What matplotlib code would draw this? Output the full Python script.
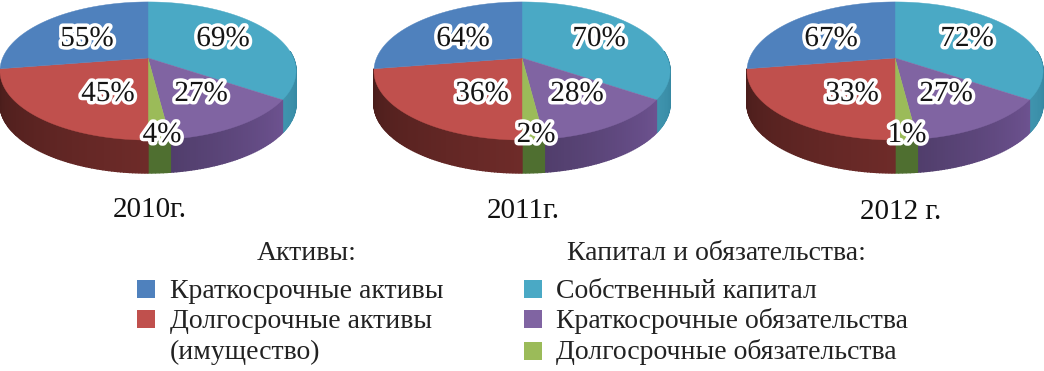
import numpy as np
import matplotlib
matplotlib.use('Agg')
import matplotlib.pyplot as plt
import matplotlib.patheffects as pe
from matplotlib.patches import Polygon

# Данные
years = ['2010г.', '2011г.', '2012 г.']
short_assets = [55, 64, 67]
long_assets = [45, 36, 33]
equity = [69, 70, 72]
short_liab = [27, 28, 27]
long_liab = [4, 2, 1]

# На рисунке все три круга нарисованы одинаково, секторы не зависят от подписей
drawn_right = [69, 27, 4]
drawn_left = [45, 55]

# Цвета
c_blue = '#4f81bd'
c_red = '#c0504d'
c_teal = '#4aa9c5'
c_purple = '#8064a2'
c_green = '#9bbb59'

# Синий сектор стенки не имеет: он целиком сзади
side_colors = {
    c_teal: ('#2f7f99', '#3f94ae'),
    c_purple: ('#6d5290', '#513e6c'),
    c_green: ('#4f6f30', '#4f6f30'),
    c_red: ('#6e2b29', '#4a1d1b'),
}

plt.rcParams['font.family'] = ['Liberation Serif', 'DejaVu Serif']

fig = plt.figure(figsize=(10.44, 3.71), dpi=100)
ax = fig.add_axes([0, 0, 1, 1])
ax.set_xlim(0, 1044)
ax.set_ylim(371, 0)
ax.axis('off')

# Геометрия псевдо-3D круга
R = 145.4
A = 66.6
K = 0.188
DEPTH = 33


def project(cx, cy, theta):
    w = 1 + K * np.cos(theta)
    return cx + R * np.sin(theta) / w, cy - A * np.cos(theta) / w


def arc(t1, t2):
    n = max(int(abs(t2 - t1) * 60), 2)
    return np.linspace(t1, t2, n)


def draw_side(cx, cy, t1, t2, color):
    # боковая стенка только для видимой передней части
    if color not in side_colors:
        return
    t1v = max(t1, np.pi / 2 - 0.1)
    t2v = min(t2, 3 * np.pi / 2 + 0.1)
    if t2v <= t1v:
        return
    ts = arc(t1v, t2v)
    c1, c2 = side_colors[color]
    c1 = np.array(matplotlib.colors.to_rgb(c1))
    c2 = np.array(matplotlib.colors.to_rgb(c2))
    for i in range(len(ts) - 1):
        x1, y1 = project(cx, cy, ts[i])
        x2, y2 = project(cx, cy, ts[i + 1])
        pts = [(x1, y1), (x2, y2), (x2, y2 + DEPTH), (x1, y1 + DEPTH)]
        f = i / max(len(ts) - 2, 1)
        col = c1 + (c2 - c1) * f
        ax.add_patch(Polygon(pts, closed=True, fc=col, ec=col, lw=1, zorder=2))


def draw_wedge(cx, cy, t1, t2, color):
    xs, ys = project(cx, cy, arc(t1, t2))
    pts = [(cx, cy)] + list(zip(xs, ys))
    ax.add_patch(Polygon(pts, closed=True, fc=color, ec=color, lw=0.3, zorder=3))


def draw_pie(cx, cy):
    right = list(zip(drawn_right, [c_teal, c_purple, c_green]))
    left = list(zip(drawn_left, [c_red, c_blue]))
    start = 0
    for val, col in right + left:
        end = start + val / 100 * np.pi
        draw_side(cx, cy, start, end, col)
        draw_wedge(cx, cy, start, end, col)
        start = end


def label(x, y, txt):
    ax.text(x, y, txt, fontsize=21, ha='center', va='center', color='#141414', zorder=5,
            path_effects=[pe.withStroke(linewidth=5, foreground='white')])


centers = [148, 522, 895]
cy = 58
label_pos = [
    [(87, 39), (223, 39), (108, 94), (201, 94), (162, 135)],
    [(463, 39), (599, 39), (482, 94), (577, 94), (536, 135)],
    [(831, 39), (967, 39), (852, 94), (946, 94), (907, 135)],
]

for i in range(3):
    draw_pie(centers[i], cy)
    p = label_pos[i]
    label(p[0][0], p[0][1], f'{short_assets[i]}%')
    label(p[1][0], p[1][1], f'{equity[i]}%')
    label(p[2][0], p[2][1], f'{long_assets[i]}%')
    label(p[3][0], p[3][1], f'{short_liab[i]}%')
    label(p[4][0], p[4][1], f'{long_liab[i]}%')

# Подписи годов
year_pos = [(150, 210), (523, 211), (901, 212)]
for (x, y), t in zip(year_pos, years):
    ax.text(x, y, t, fontsize=21, ha='center', va='center', color='#111111')


# Легенда
def leg_text(x, y, t):
    ax.text(x, y, t, fontsize=20, ha='left', va='center', color='#222222')


def leg_box(x, y, col):
    ax.add_patch(Polygon([(x, y - 9), (x + 18, y - 9), (x + 18, y + 9), (x, y + 9)],
                         closed=True, fc=col, ec='none'))


leg_text(257, 253, 'Активы:')
leg_text(567, 253, 'Капитал и обязательства:')
leg_box(137, 289, c_blue)
leg_text(170, 291, 'Краткосрочные активы')
leg_box(137, 319, c_red)
leg_text(170, 321, 'Долгосрочные активы')
leg_text(170, 352, '(имущество)')
leg_box(524, 289, c_teal)
leg_text(556, 291, 'Собственный капитал')
leg_box(524, 319, c_purple)
leg_text(556, 321, 'Краткосрочные обязательства')
leg_box(524, 351, c_green)
leg_text(556, 352, 'Долгосрочные обязательства')

fig.savefig('out.png', dpi=100, facecolor='white')
